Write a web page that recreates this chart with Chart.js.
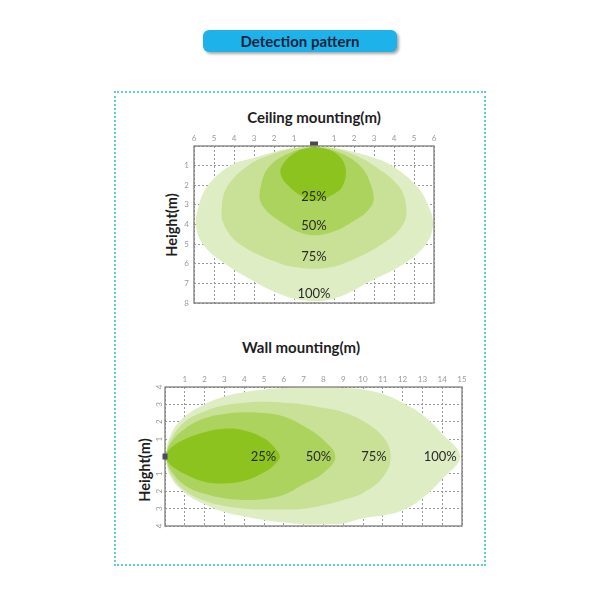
<!DOCTYPE html>
<html>
<head>
<meta charset="utf-8">
<script src="https://cdn.jsdelivr.net/npm/chart.js@4.4.1/dist/chart.umd.min.js"></script>
<style>
  body { margin: 0; background: #fff; }
  #page { position: relative; width: 600px; height: 600px; font-family: Lato, "Open Sans", sans-serif; }
  .pill {
    position: absolute; left: 203px; top: 30px; width: 194px; height: 22px;
    background: #1db3ea; border-radius: 6px; box-shadow: 2px 2px 3px rgba(0,0,0,0.35);
    color: #14223c; font-weight: bold; font-size: 15px; line-height: 22px; text-align: center;
  }
  .frame {
    position: absolute; left: 114px; top: 91px; width: 372px; height: 475px;
    box-sizing: border-box; border: 2px dotted #5ccdd6;
  }
  .title { position: absolute; width: 300px; height: 18px; line-height: 18px; text-align: center;
    font-size: 15px; font-weight: bold; color: #1e1e1e; }
  .ytitle { position: absolute; width: 100px; height: 18px; line-height: 18px; text-align: center;
    font-size: 14.5px; font-weight: bold; color: #1e1e1e; transform: rotate(-90deg); }
  canvas { position: absolute; }
</style>
</head>
<body>
<div id="page">
  <div class="pill">Detection pattern</div>
  <div class="frame"></div>
  <div class="title" style="left:164px; top:108px;">Ceiling mounting(m)</div>
  <div class="ytitle" style="left:122px; top:216px;">Height(m)</div>
  <div class="title" style="left:151px; top:338px;">Wall mounting(m)</div>
  <div class="ytitle" style="left:95px; top:461px;">Height(m)</div>
  <canvas id="ceiling" width="276" height="177" style="left:164px; top:130px;"></canvas>
  <canvas id="wall" width="333" height="159" style="left:135px; top:371px;"></canvas>
</div>
<script>
// ceiling mounting: x = horizontal distance (m), y = depth below sensor (m)
const ceilingXTicks = ['6', '5', '4', '3', '2', '1', '', '1', '2', '3', '4', '5', '6'];
const ceilingYTicks = ['', '1', '2', '3', '4', '5', '6', '7', '8'];
const ceiling100 = [[0, 0.02], [-1, 0.1], [-2, 0.3], [-3, 0.6], [-4.2, 1], [-5.3, 2], [-5.75, 3], [-5.9, 4],
  [-5.55, 5], [-4.45, 6], [-2.8, 7], [-1.8, 7.5], [-0.8, 7.82], [0, 7.9], [0.8, 7.82], [1.7, 7.5], [2.6, 7],
  [4.5, 6], [5.6, 5], [5.95, 4], [5.7, 3], [5.1, 2], [3.9, 1], [3, 0.6], [2, 0.3], [1, 0.1], [0, 0.02]];
const ceiling75 = [[0, 0.02], [-1, 0.12], [-2.3, 0.5], [-3.3, 1], [-4.3, 2], [-4.6, 3], [-4.5, 4], [-3.7, 5],
  [-1.65, 6], [-0.7, 6.2], [0, 6.25], [0.7, 6.2], [1.45, 6], [3.4, 5], [4.45, 4], [4.6, 3], [4.2, 2], [3, 1],
  [2, 0.45], [1, 0.12], [0, 0.02]];
const ceiling50 = [[0, 0.02], [-1.1, 0.3], [-2.2, 1], [-2.65, 2], [-2.6, 3], [-1.45, 4], [-0.6, 4.45], [0, 4.55],
  [0.7, 4.45], [1.7, 4], [2.9, 3], [2.85, 2], [2.3, 1], [1.2, 0.3], [0, 0.02]];
const ceiling25 = [[0, 0.02], [-0.9, 0.3], [-1.6, 1], [-1.65, 1.5], [-1.3, 2], [-0.7, 2.5], [0, 2.8], [0.9, 2.5],
  [1.45, 2], [1.55, 1], [1, 0.3], [0, 0.02]];
const ceilingLabels = ['25%', '50%', '75%', '100%'];
const ceilingLabelX = [0, 0, 0, 0];
const ceilingLabelY = [2.6, 4.05, 5.65, 7.55];

// wall mounting: x = distance from wall (m), y = offset left/right (m)
const wallXTicks = ['', '1', '2', '3', '4', '5', '6', '7', '8', '9', '10', '11', '12', '13', '14', '15'];
const wallYTicks = ['4', '3', '2', '1', '', '1', '2', '3', '4'];
const wall100 = [[0, 0], [0.3, 1.3], [1, 2.3], [2, 3], [3, 3.45], [4, 3.7], [5, 3.85], [6, 3.95], [7, 4.05],
  [8, 4.05], [9, 3.95], [10, 3.85], [11, 3.6], [12, 3.1], [13, 2.4], [14, 1.3], [14.9, 0], [14, -1.3],
  [13, -2.4], [12, -3.1], [11, -3.4], [10, -3.55], [9, -3.85], [8, -3.9], [7, -3.9], [6, -3.8], [5, -3.65],
  [4, -3.45], [3, -3.2], [2, -2.75], [1, -2.1], [0.3, -1.2], [0, 0]];
const wall75 = [[0, 0], [0.3, 1], [1, 2], [2, 2.6], [3, 2.95], [4, 3.1], [5, 3.15], [6, 3.1], [7, 3], [8, 2.8],
  [9, 2.55], [10, 2.05], [11, 1.15], [11.4, 0], [11, -1.2], [10, -2.1], [9, -2.5], [8, -2.8], [7, -3],
  [6, -3.05], [5, -3.05], [4, -3], [3, -2.85], [2, -2.55], [1, -1.95], [0.3, -1], [0, 0]];
const wall50 = [[0, 0], [0.3, 0.8], [1, 1.6], [2, 2.2], [3, 2.45], [4, 2.55], [5, 2.5], [6, 2.3], [7, 1.75],
  [8, 0.95], [8.6, 0], [8, -0.95], [7, -1.6], [6, -2.2], [5, -2.45], [4, -2.5], [3, -2.4], [2, -2.15],
  [1, -1.65], [0.3, -0.8], [0, 0]];
const wall25 = [[0, 0], [0.3, 0.5], [1, 1], [2, 1.4], [3, 1.6], [4, 1.5], [5, 1.05], [5.5, 0.55], [5.8, 0],
  [5.5, -0.5], [5, -0.9], [4, -1.4], [3, -1.55], [2, -1.45], [1, -1], [0.3, -0.5], [0, 0]];
const wallLabels = ['25%', '50%', '75%', '100%'];
const wallLabelX = [4.97, 7.75, 10.55, 13.9];
const wallLabelY = [0, 0, 0, 0];

const zoneColors = ['#8cc31e', '#acd35e', '#c8e196', '#deedc3'];

Chart.defaults.font.family = 'Lato, "Open Sans", sans-serif';

// draws frame, sensor mark and zone labels on top of the grid
const overlay = {
    id: 'overlay',
    afterDraw(chart, args, opts) {
        const { ctx, chartArea: a, scales: { x, y } } = chart;
        ctx.save();
        ctx.strokeStyle = '#7d7d7d';
        ctx.lineWidth = 1.3;
        ctx.strokeRect(a.left, a.top, a.width, a.height);

        ctx.fillStyle = '#2a2a2a';
        ctx.font = '13px Lato, "Open Sans", sans-serif';
        ctx.textAlign = 'center';
        ctx.textBaseline = 'middle';
        opts.labels.forEach((t, i) => {
            ctx.fillText(t, x.getPixelForValue(opts.lx[i]), y.getPixelForValue(opts.ly[i]));
        });

        const dx = x.getPixelForValue(0);
        const dy = y.getPixelForValue(0);
        ctx.fillStyle = opts.markColor;
        ctx.fillRect(dx + opts.mark[0], dy + opts.mark[1], opts.mark[2], opts.mark[3]);
        ctx.restore();
    }
};

function zone(points, color) {
    return {
        data: points.map(([x, y]) => ({ x, y })),
        showLine: true,
        fill: 'shape',
        tension: 0.4,
        backgroundColor: color,
        borderWidth: 0,
        pointRadius: 0
    };
}

function axis(pos, min, max, labels, extra) {
    return Object.assign({
        type: 'linear',
        position: pos,
        min: min,
        max: max,
        z: 1,
        ticks: {
            stepSize: 1,
            autoSkip: false,
            padding: 3,
            color: '#9a9a9a',
            font: { size: 8 },
            callback: v => labels[Math.round(v - min)]
        },
        grid: { color: '#9a9a9a', lineWidth: 1, drawTicks: false },
        border: { display: false, dash: [2, 2] },
        afterFit: s => {
            if (pos === 'top') s.height = 16; else s.width = 30;
            s.paddingLeft = s.paddingRight = s.paddingTop = s.paddingBottom = 0;
        }
    }, extra || {});
}

function makeChart(id, zones, scales, overlayOpts) {
    return new Chart(document.getElementById(id), {
        type: 'scatter',
        data: { datasets: zones.map((z, i) => zone(z, zoneColors[i])) },
        options: {
            responsive: false,
            animation: false,
            events: [],
            layout: { padding: { left: 0, top: 0, right: 6, bottom: 4 } },
            plugins: { legend: { display: false }, tooltip: { enabled: false }, overlay: overlayOpts },
            scales: scales
        },
        plugins: [overlay]
    });
}

const ceilingY = axis('left', 0, 8, ceilingYTicks, { reverse: true });
ceilingY.ticks.padding = 5;

makeChart('ceiling', [ceiling25, ceiling50, ceiling75, ceiling100], {
    x: axis('top', -6, 6, ceilingXTicks),
    y: ceilingY
}, { labels: ceilingLabels, lx: ceilingLabelX, ly: ceilingLabelY, mark: [-4, -4.5, 8, 4], markColor: '#4a4a4a' });

const wallY = axis('left', -4, 4, wallYTicks);
wallY.ticks.minRotation = 90;
wallY.ticks.maxRotation = 90;
wallY.ticks.crossAlign = 'center';

makeChart('wall', [wall25, wall50, wall75, wall100], {
    x: axis('top', 0, 15, wallXTicks),
    y: wallY
}, { labels: wallLabels, lx: wallLabelX, ly: wallLabelY, mark: [-2.5, -3, 5, 6], markColor: '#4a4a66' });
</script>
</body>
</html>
